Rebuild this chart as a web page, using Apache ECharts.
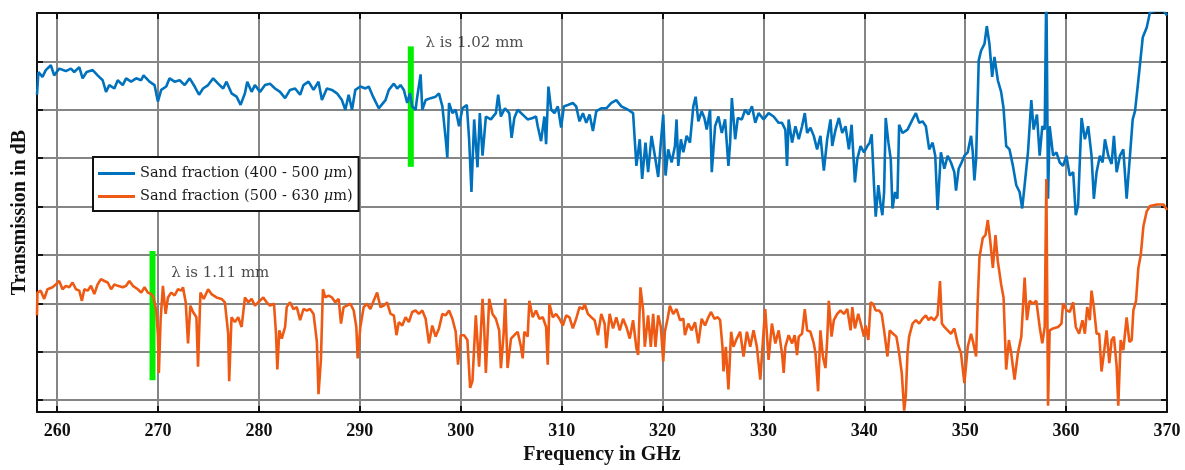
<!DOCTYPE html>
<html>
<head>
<meta charset="utf-8">
<script src="https://cdn.jsdelivr.net/npm/echarts@6/dist/echarts.min.js"></script>
<style>
html,body{margin:0;padding:0;background:#fff;}
#chart{width:1185px;height:470px;}
</style>
</head>
<body>
<div id="chart"></div>
<script>
// ---- data (frequency in GHz, transmission in dB, relative scale) ----
const xTicks = [260, 270, 280, 290, 300, 310, 320, 330, 340, 350, 360, 370];
const yTicks = [0, 1, 2, 3, 4, 5, 6, 7, 8];
const seriesNames = ['Sand fraction (400 - 500 μm)', 'Sand fraction (500 - 630 μm)'];

const sand400_500 = [
[258.0,6.31],[258.14,6.78],[258.54,6.68],[258.87,6.82],[259.37,6.92],[259.70,6.71],[260.20,6.85],[260.86,6.80],
[261.36,6.85],[261.69,6.78],[262.19,6.88],[262.52,6.65],[262.92,6.78],[263.52,6.82],[264.01,6.71],[264.51,6.61],
[264.84,6.37],[265.17,6.51],[265.67,6.44],[266.00,6.61],[266.50,6.51],[266.83,6.65],[267.33,6.58],[267.83,6.65],
[268.32,6.61],[268.56,6.71],[269.15,6.58],[269.65,6.51],[269.98,6.17],[270.31,6.41],[270.81,6.48],[271.14,6.65],
[271.64,6.58],[272.14,6.61],[272.64,6.51],[273.13,6.65],[273.63,6.48],[274.06,6.31],[274.46,6.44],[274.96,6.51],
[275.46,6.65],[275.95,6.54],[276.45,6.44],[276.78,6.58],[277.28,6.34],[277.78,6.27],[278.18,6.10],[278.61,6.34],
[278.84,6.58],[279.27,6.37],[279.60,6.51],[280.10,6.37],[280.60,6.51],[281.09,6.54],[281.59,6.44],[282.09,6.37],
[282.59,6.24],[283.08,6.41],[283.58,6.44],[284.08,6.31],[284.41,6.51],[284.91,6.58],[285.41,6.41],[285.90,6.58],
[286.24,6.20],[286.73,6.44],[287.23,6.41],[287.73,6.34],[288.22,6.20],[288.56,6.00],[288.89,6.31],[289.22,6.00],
[289.55,6.41],[290.05,6.48],[290.55,6.44],[290.88,6.48],[291.31,6.27],[291.87,6.03],
[292.04,6.03],[292.54,6.20],[292.87,6.41],[293.37,6.54],[293.70,6.44],[294.03,6.51],[294.36,6.41],[294.69,6.14],
[294.96,6.34],[295.19,6.07],[295.52,6.00],[295.69,6.27],[296.02,6.73],[296.19,6.00],[296.52,6.20],[297.02,6.24],
[297.51,6.27],[297.84,6.34],[298.18,6.07],[298.51,5.39],[298.67,5.01],[298.84,6.14],[299.17,5.93],[299.50,6.00],
[299.83,5.66],[300.17,6.03],[300.60,6.10],[300.83,5.39],[301.06,4.30],[301.33,5.80],[301.66,4.81],[301.89,5.93],
[302.16,5.05],[302.49,5.86],[302.99,5.80],[303.48,5.93],[303.71,6.31],[303.98,5.86],[304.38,6.03],[304.81,5.93],
[305.04,5.42],[305.31,5.83],[305.64,6.00],[306.14,5.90],[306.63,5.80],[307.13,5.83],[307.46,5.86],[307.63,5.66],
[307.96,5.35],[308.29,5.86],[308.46,5.29],[308.69,6.48],[308.96,6.00],[309.29,5.93],[309.62,6.07],[309.95,5.63],
[310.22,6.07],[310.61,6.10],[311.11,6.14],[311.44,6.07],[311.77,5.76],[312.11,5.93],[312.44,5.73],[312.77,5.90],
[313.10,5.56],[313.43,5.97],[313.93,6.03],[314.43,6.03],[314.93,6.14],[315.42,6.20],[315.92,6.07],[316.58,6.00],
[317.08,5.93],[317.41,4.84],[317.74,5.39],[317.98,4.57],[318.31,5.32],[318.57,4.71],[318.91,5.46],[319.24,5.05],
[319.57,4.61],[319.83,5.32],[320.07,5.90],[320.30,4.64],[320.56,5.18],[320.90,4.91],[321.23,5.25],[321.39,5.80],
[321.56,4.84],[321.82,5.39],[322.06,5.12],[322.39,5.46],[322.72,5.32],[323.05,6.07],[323.28,6.27],[323.55,5.76],
[323.88,5.97],[324.15,5.83],[324.38,5.59],[324.71,6.00],[324.88,4.71],[325.21,5.66],[325.54,5.86],[325.87,5.52],
[326.20,5.80],[326.53,4.84],[326.70,5.32],[326.87,6.24],[327.20,5.39],[327.46,5.83],[327.86,5.80],[328.19,6.00],
[328.52,5.90],[328.86,6.07],[329.19,5.73],[329.52,5.93],[330.02,5.80],[330.51,5.93],[331.01,5.86],[331.51,5.73],
[331.84,5.73],[332.17,5.59],[332.34,4.84],[332.50,5.80],[332.84,5.32],[333.17,5.66],[333.50,5.39],[333.83,5.66],
[334.10,5.93],[334.33,5.52],[334.66,5.63],[334.99,5.46],[335.32,5.18],[335.65,5.46],[335.99,4.74],[336.32,5.39],
[336.65,5.80],[336.82,5.25],[337.15,5.59],[337.48,5.83],[337.81,5.52],[338.14,5.66],[338.47,5.18],[338.74,5.69],
[339.07,4.50],[339.30,4.98],[339.63,5.25],[339.97,5.12],[340.30,5.25],[340.53,5.32],[340.73,5.49],[340.96,4.44],
[341.13,3.79],[341.39,4.44],[341.62,4.03],[341.79,3.82],[341.96,4.30],[342.12,5.83],[342.39,5.32],[342.62,4.98],
[342.79,3.96],[343.05,4.30],[343.28,4.16],[343.45,5.69],[343.78,5.52],[344.28,5.59],[344.78,5.80],[345.11,5.93],
[345.44,5.73],[345.77,5.76],[346.10,5.66],[346.43,5.18],[346.77,5.32],[347.03,5.05],[347.26,3.93],[347.59,5.12],
[347.93,4.78],[348.26,5.05],[348.59,4.91],[348.92,4.71],[349.09,4.33],[349.35,4.78],[349.58,4.88],[349.92,5.05],
[350.25,5.12],[350.58,5.46],[350.75,5.12],[350.91,4.54],[351.08,4.98],[351.34,7.02],[351.57,7.22],[351.91,7.36],
[352.14,7.73],[352.40,7.36],[352.67,6.68],[352.90,7.09],[353.23,6.61],[353.56,6.37],[353.80,6.03],[354.06,5.25],
[354.39,5.18],[354.73,4.84],[355.06,4.44],[355.39,4.30],[355.65,3.96],[355.89,4.44],[356.22,5.12],[356.55,6.20],
[356.78,5.59],[357.11,5.90],[357.38,5.05],[357.64,5.66],[357.88,5.59],[358.04,8.60],[358.21,4.16],[358.37,5.66],
[358.71,5.05],[359.04,5.12],[359.37,4.91],[359.70,4.84],[360.03,5.05],[360.36,4.64],[360.70,4.71],[360.96,3.82],
[361.19,4.03],[361.53,5.83],[361.86,5.39],[362.19,5.66],[362.52,5.05],[362.75,4.16],[363.02,4.71],[363.35,5.05],
[363.62,4.91],[363.85,5.39],[364.18,5.05],[364.51,4.88],[364.74,5.46],[365.01,4.71],[365.34,5.05],[365.67,5.18],
[366.00,4.16],[366.33,5.05],[366.60,5.80],[366.83,5.97],[367.16,6.61],[367.60,7.50],[367.99,7.70],[368.32,8.02],
[368.99,8.05],[369.65,8.05],[370.0,7.95]
];

const sand500_630 = [
[258.0,1.75],[258.04,2.22],[258.37,2.26],[258.71,2.09],[259.04,2.29],[259.54,2.33],[259.87,2.39],[260.20,2.46],
[260.53,2.29],[260.86,2.36],[261.19,2.33],[261.53,2.43],[261.86,2.29],[262.19,2.26],[262.45,2.05],[262.69,2.29],
[263.02,2.26],[263.35,2.36],[263.68,2.19],[264.01,2.39],[264.34,2.50],[264.68,2.46],[265.01,2.43],[265.34,2.29],
[265.67,2.39],[266.00,2.36],[266.50,2.33],[266.83,2.36],[267.16,2.46],[267.50,2.36],[267.99,2.29],[268.33,2.22],
[268.66,2.33],[268.99,2.22],[269.32,2.19],[269.55,2.12],[269.82,1.85],[269.98,1.37],[270.08,0.56],[270.25,1.65],
[270.48,2.36],[270.75,1.78],[270.98,2.12],[271.31,2.22],[271.64,2.16],[271.97,2.29],[272.31,2.26],[272.47,2.33],
[272.74,2.02],[272.97,1.17],[273.20,1.95],[273.47,1.82],[273.80,1.71],[273.96,0.69],[274.20,2.22],[274.53,2.09],
[274.96,2.29],[275.29,2.19],[275.79,2.12],[276.29,2.09],[276.62,2.02],[276.95,1.37],[277.05,0.39],[277.28,1.71],
[277.61,1.61],[277.94,1.71],[278.28,1.51],[278.61,2.12],[278.94,2.02],[279.27,2.09],[279.60,1.95],[279.93,2.02],
[280.43,2.12],[280.76,2.02],[281.09,1.95],[281.49,1.99],[281.69,1.37],[281.82,0.63],[282.02,1.44],[282.26,1.27],
[282.59,1.51],[282.75,1.92],[283.08,2.02],[283.42,1.88],[283.75,1.92],[284.08,1.65],[284.41,1.88],[284.74,1.85],
[285.07,1.88],[285.41,1.78],[285.74,1.20],[285.90,0.12],[286.14,0.83],[286.34,2.29],[286.57,2.12],[286.90,2.16],
[287.23,2.12],[287.56,2.02],[287.90,2.09],[288.13,1.58],[288.39,1.92],[288.73,1.95],[289.06,1.99],[289.39,1.85],
[289.65,1.51],[289.78,0.86],[290.05,1.51],[290.38,1.92],[290.71,1.99],[291.04,1.88],[291.37,2.05],[291.71,2.22],
[292.04,1.92],[292.37,1.95],[292.70,2.02],[293.04,1.78],[293.37,1.75],[293.63,1.34],[293.86,1.61],[294.20,1.54],
[294.53,1.71],[294.86,1.61],[295.19,1.82],[295.52,1.85],[295.85,1.78],[296.19,1.85],[296.52,1.68],[296.85,1.17],
[297.18,1.54],[297.51,1.31],[297.84,1.48],[298.18,1.78],[298.51,1.75],[298.84,1.85],[299.17,1.68],[299.50,1.41],
[299.73,0.73],[300.00,1.34],[300.33,1.34],[300.66,1.24],[300.93,0.25],[301.16,0.39],[301.49,1.75],[301.82,0.69],
[302.16,2.09],[302.32,1.51],[302.49,0.56],[302.82,2.09],[303.15,1.78],[303.48,1.68],[303.81,1.44],[303.98,0.66],
[304.25,1.37],[304.41,2.09],[304.64,0.66],[304.98,1.27],[305.31,1.34],[305.64,1.41],[305.97,1.10],[306.14,0.86],
[306.30,1.41],[306.63,1.31],[306.80,2.05],[307.13,1.71],[307.46,1.85],[307.79,1.68],[308.13,1.71],[308.46,1.51],
[308.62,0.73],[308.79,1.99],[309.12,1.71],[309.45,1.78],[309.78,1.68],[310.12,1.54],[310.45,1.75],[310.78,1.71],
[311.11,1.48],[311.44,1.68],[311.77,1.92],[312.11,1.88],[312.27,1.99],[312.60,1.78],[312.94,1.71],[313.27,1.65],
[313.60,1.34],[313.93,1.78],[314.26,1.58],[314.43,1.07],[314.76,1.78],[315.09,1.48],[315.42,1.71],[315.76,1.44],
[316.09,1.68],[316.42,1.51],[316.75,1.27],[317.08,1.65],[317.41,1.07],[317.58,0.93],[317.81,2.33],[318.08,1.85],
[318.24,1.10],[318.57,1.75],[318.84,1.10],[319.07,1.78],[319.30,1.10],[319.57,1.75],[319.83,1.51],[320.07,0.80],
[320.23,1.41],[320.50,1.68],[320.73,1.95],[321.06,1.78],[321.39,1.88],[321.73,1.65],[322.06,1.68],[322.22,1.34],
[322.55,1.58],[322.89,1.44],[323.22,1.61],[323.55,1.17],[323.88,1.68],[324.21,1.54],[324.54,1.71],[324.81,1.82],
[325.14,1.68],[325.47,1.71],[325.71,1.65],[325.94,1.10],[326.04,0.59],[326.27,1.10],[326.53,0.22],[326.80,1.41],
[327.03,1.10],[327.36,1.27],[327.69,1.41],[328.03,0.90],[328.36,1.41],[328.69,1.10],[329.02,1.44],[329.35,1.10],
[329.69,0.42],[330.02,1.44],[330.18,1.88],[330.51,0.83],[330.84,1.58],[331.18,1.17],[331.51,1.44],
[331.84,0.97],[332.01,0.56],[332.17,1.10],[332.50,1.34],[332.84,1.17],[333.10,1.34],[333.33,0.93],[333.50,1.31],
[333.83,1.37],[334.10,1.88],[334.33,1.44],[334.66,1.41],[334.99,1.17],[335.16,0.97],[335.42,0.18],[335.65,1.44],
[335.89,0.90],[336.15,0.66],[336.32,1.24],[336.48,2.05],[336.75,1.31],[336.98,1.65],[337.31,1.78],[337.64,1.85],
[337.98,1.78],[338.31,1.88],[338.64,1.44],[338.81,1.92],[339.07,1.48],[339.40,1.78],[339.73,1.51],[339.97,1.31],
[340.13,1.54],[340.40,1.24],[340.63,2.02],[340.86,1.99],[341.13,1.85],[341.46,1.85],[341.72,1.78],[341.96,1.44],
[342.29,0.90],[342.52,1.44],[342.85,1.37],[343.18,1.31],[343.45,0.97],[343.71,0.56],[343.95,-0.22],[344.11,0.08],
[344.28,0.97],[344.44,1.31],[344.78,1.58],[345.11,1.65],[345.44,1.58],[345.77,1.68],[346.10,1.75],[346.37,1.65],
[346.60,1.71],[346.93,1.65],[347.26,1.75],[347.50,2.46],[347.69,1.58],[347.93,1.51],[348.26,1.44],[348.59,1.37],
[348.92,1.48],[349.25,1.17],[349.58,0.97],[349.92,0.35],[350.25,1.10],[350.58,1.37],[350.81,1.17],[351.08,0.90],
[351.24,2.05],[351.41,2.94],[351.74,3.35],[352.01,3.41],[352.24,3.72],[352.47,3.31],[352.74,2.73],[353.00,3.41],
[353.23,2.87],[353.56,2.39],[353.80,2.12],[354.06,0.63],[354.33,1.24],[354.56,0.97],[354.89,0.42],[355.22,0.97],
[355.56,1.31],[355.89,2.53],[356.12,1.65],[356.38,2.05],[356.72,1.99],[357.05,2.05],[357.38,1.51],[357.64,1.17],
[357.88,1.51],[358.04,4.57],[358.21,-0.12],[358.37,1.44],[358.71,1.48],[359.20,1.51],[359.54,1.58],[359.70,2.00],
[360.03,1.86],[360.36,1.82],[360.70,2.02],[360.96,1.51],[361.29,1.37],[361.62,1.65],[361.86,1.37],[362.09,1.92],
[362.35,1.65],[362.52,2.26],[362.75,1.92],[363.02,1.37],[363.28,1.37],[363.51,0.59],[363.75,0.97],[364.01,1.44],
[364.28,0.76],[364.51,1.24],[364.74,1.31],[365.01,0.70],[365.17,-0.12],[365.41,1.24],[365.67,1.03],[366.00,1.71],
[366.27,1.20],[366.50,1.24],[366.67,1.86],[366.93,2.05],[367.16,2.73],[367.40,3.00],[367.66,3.59],[367.99,3.90],
[368.32,4.01],[368.99,4.04],[369.65,4.04],[370.0,3.93]
];

// wavelength markers (frequency, lower/upper level) and their captions
const markerFreq = [295.05, 269.45];
const markerLow = [4.82, 0.41];
const markerHigh = [7.31, 3.08];
const markerText = ['λ is 1.02 mm', 'λ is 1.11 mm'];
const markerTextPos = [[296.5, 7.37], [271.3, 2.63]];

// ---- chart ----
const chart = echarts.init(document.getElementById('chart'), null, {renderer: 'canvas'});
const gridColor = '#858585';
const serifBold = '"Liberation Serif", "Times New Roman", serif';
const serifText = '"DejaVu Serif", serif';

function baseX(pos, showLabel) {
  return {
    type: 'value', min: 258, max: 370, position: pos,
    axisLine: {show: true, onZero: false, lineStyle: {color: '#111', width: 2}},
    axisTick: {show: true, inside: true, length: 6, customValues: xTicks, lineStyle: {color: '#111', width: 2}},
    axisLabel: {show: showLabel, customValues: xTicks, margin: 10, color: '#111', fontFamily: serifBold, fontWeight: 'bold', fontSize: 18},
    splitLine: {show: showLabel, lineStyle: {color: gridColor, width: 2}}
  };
}
function baseY(pos, showGrid) {
  return {
    type: 'value', min: -0.25, max: 8, position: pos,
    axisLine: {show: true, onZero: false, lineStyle: {color: '#111', width: 2}},
    axisTick: {show: true, inside: true, length: 6, customValues: yTicks, lineStyle: {color: '#111', width: 2}},
    axisLabel: {show: false, customValues: yTicks},
    splitLine: {show: showGrid, lineStyle: {color: gridColor, width: 2}}
  };
}

const xMain = baseX('bottom', true);
xMain.name = 'Frequency in GHz';
xMain.nameLocation = 'middle';
xMain.nameGap = 27;
xMain.nameTextStyle = {fontFamily: serifBold, fontWeight: 'bold', fontSize: 20, color: '#111'};
const yMain = baseY('left', true);
yMain.name = 'Transmission in dB';
yMain.nameLocation = 'middle';
yMain.nameGap = 7;
yMain.nameTextStyle = {fontFamily: serifBold, fontWeight: 'bold', fontSize: 20, color: '#111'};

const markerSeries = markerFreq.map((f, i) => ({
  type: 'line', xAxisIndex: 0, yAxisIndex: 0, silent: true, symbol: 'none', z: 1,
  lineStyle: {color: '#00ee00', width: 6, cap: 'butt'},
  data: [[f, markerLow[i]], [f, markerHigh[i]]]
}));

const option = {
  animation: false,
  backgroundColor: '#fff',
  grid: {left: 37, right: 18, top: 13, bottom: 54, containLabel: false},
  legend: {
    data: seriesNames,
    orient: 'vertical', left: 93, top: 157,
    backgroundColor: '#fff', borderColor: '#111', borderWidth: 2,
    padding: [9, 6, 7, 5], itemGap: 8, itemWidth: 37, itemHeight: 3, icon: 'rect',
    formatter: name => name.replace('μ', '{i|μ}'),
    textStyle: {fontFamily: serifText, fontSize: 14.5, color: '#1a1a1a',
      rich: {i: {fontFamily: serifText, fontSize: 14.5, fontStyle: 'italic', color: '#1a1a1a'}}}
  },
  xAxis: [xMain, baseX('top', false)],
  yAxis: [yMain, baseY('right', false)],
  series: [
    ...markerSeries,
    {
      name: seriesNames[0], type: 'line', showSymbol: false, symbol: 'none', z: 3,
      color: '#0072BD', lineStyle: {color: '#0072BD', width: 2.6}, data: sand400_500
    },
    {
      name: seriesNames[1], type: 'line', showSymbol: false, symbol: 'none', z: 3,
      color: '#EE5A14', lineStyle: {color: '#EE5A14', width: 2.6}, data: sand500_630
    },
    {
      type: 'scatter', silent: true, symbolSize: 0, z: 4,
      data: markerTextPos.map((p, i) => ({value: p, name: markerText[i]})),
      label: {show: true, position: 'right', distance: 0, formatter: p => p.name,
        fontFamily: serifText, fontSize: 15, color: '#1a1a1a'}
    }
  ]
};
chart.setOption(option);
</script>
</body>
</html>
